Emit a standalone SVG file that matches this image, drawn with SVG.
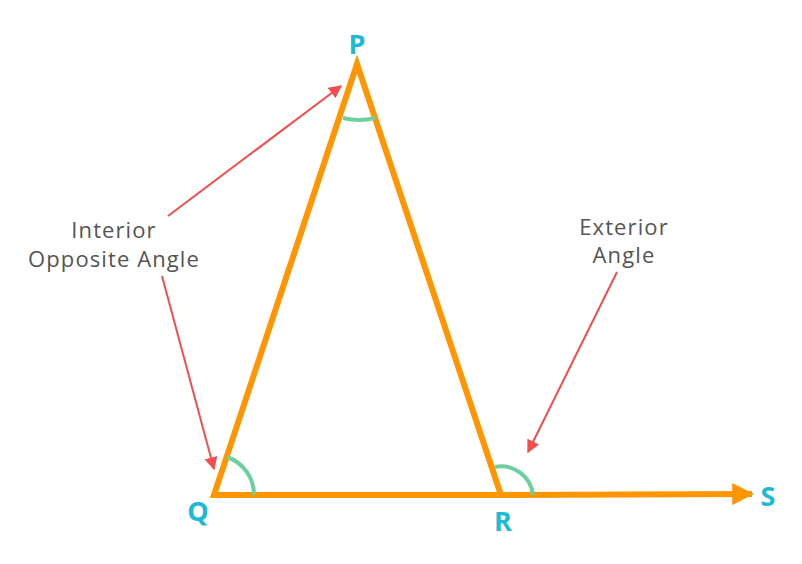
<svg xmlns="http://www.w3.org/2000/svg" width="802" height="564" viewBox="0 0 802 564">
<style>
.edge{fill:none;stroke:#FF9500;stroke-width:6;stroke-linejoin:miter;stroke-miterlimit:20}
.arc{fill:none;stroke:#6DD09E;stroke-width:4}
.ptr{fill:none;stroke:#F24E4E;stroke-width:2}
.vl{font-family:"Open Sans","Liberation Sans",sans-serif;font-weight:bold;font-size:27px;fill:#1DBAD6;text-anchor:middle}
.lbl{font-family:"Open Sans","Liberation Sans",sans-serif;font-size:22px;letter-spacing:1.1px;fill:#555555;text-anchor:middle}
</style>
<defs>
<marker id="rh" viewBox="0 0 10 10" refX="9" refY="5" markerWidth="13" markerHeight="13" markerUnits="userSpaceOnUse" orient="auto">
<path d="M0,0 L10,5 L0,10 z" fill="#F24E4E"/>
</marker>
<marker id="oh" viewBox="0 0 10 10" refX="9" refY="5" markerWidth="22" markerHeight="22" markerUnits="userSpaceOnUse" orient="auto">
<path d="M0,0 L10,5 L0,10 z" fill="#FF9500"/>
</marker>
</defs>
<g id="triangle">
<path class="edge" d="M214,495 L357,64 L501,495 Z"/>
</g>
<g id="ray-RS">
<line class="edge" x1="501" y1="495" x2="752" y2="494" marker-end="url(#oh)"/>
</g>
<g id="angles">
<path class="arc" d="M343,118 A64,64 0 0 0 375,118"/>
<path class="arc" d="M227,457 A40,40 0 0 1 254,495"/>
<path class="arc" d="M495,467 A32,32 0 0 1 533,495"/>
</g>
<g id="connectors">
<line class="ptr" x1="168" y1="216" x2="341" y2="86" marker-end="url(#rh)"/>
<line class="ptr" x1="162" y1="276" x2="214" y2="469" marker-end="url(#rh)"/>
<line class="ptr" x1="617" y1="272" x2="528" y2="452" marker-end="url(#rh)"/>
</g>
<g id="vertex-P"><text class="vl" x="357" y="54">P</text></g>
<g id="vertex-Q"><text class="vl" x="198" y="521">Q</text></g>
<g id="vertex-R"><text class="vl" x="503" y="531">R</text></g>
<g id="vertex-S"><text class="vl" x="768" y="506">S</text></g>
<g id="label-interior">
<text class="lbl" x="114" y="238">Interior</text>
<text class="lbl" x="114" y="267">Opposite Angle</text>
</g>
<g id="label-exterior">
<text class="lbl" x="624" y="235">Exterior</text>
<text class="lbl" x="624" y="263">Angle</text>
</g>
</svg>
